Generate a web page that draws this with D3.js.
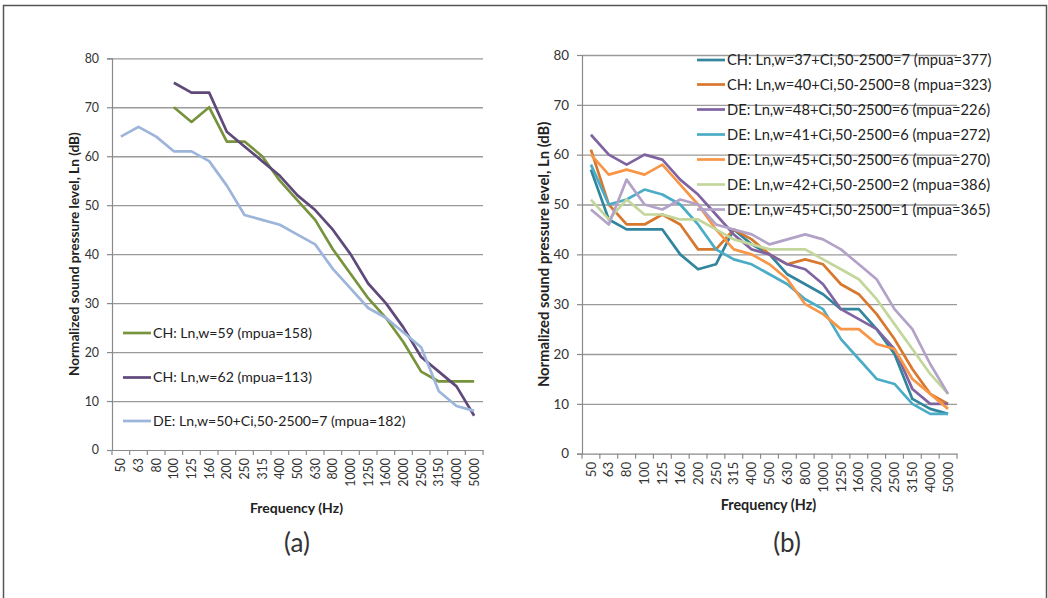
<!DOCTYPE html>
<html>
    <head>
        <script src="https://cdnjs.cloudflare.com/ajax/libs/d3/7.8.5/d3.min.js"></script>
        <title>Normalized sound pressure level</title>
        <style>
            html, body {
                margin: 0;
                background: #fff;
            }
            svg {
                display: block;
                font-family: Lato, "Open Sans", sans-serif;
            }
        </style>
    </head>
    <body>
        <svg width="1048" height="598" id="canvas"></svg>

        <script>
            var freqs = ["50","63","80","100","125","160","200","250","315","400","500",
                         "630","800","1000","1250","1600","2000","2500","3150","4000","5000"];

            var yTicks = [0, 10, 20, 30, 40, 50, 60, 70, 80];

            // (a)
            var namesA = ["CH: Ln,w=59 (mpua=158)",
                          "CH: Ln,w=62 (mpua=113)",
                          "DE: Ln,w=50+Ci,50-2500=7 (mpua=182)"];
            var colorsA = ["#77933c", "#5f497a", "#9db5db"];
            var chA59 = [null,null,null,70,67,70,63,63,60,55,51,47,41,36,31,27,22,16,14,14,14];
            var chA62 = [null,null,null,75,73,73,65,62,59,56,52,49,45,40,34,30,25,19,16,13,7];
            var deA50 = [64,66,64,61,61,59,54,48,47,46,44,42,37,33,29,27,24,21,12,9,8];

            // (b)
            var namesB = ["CH: Ln,w=37+Ci,50-2500=7 (mpua=377)",
                          "CH: Ln,w=40+Ci,50-2500=8 (mpua=323)",
                          "DE: Ln,w=48+Ci,50-2500=6 (mpua=226)",
                          "DE: Ln,w=41+Ci,50-2500=6 (mpua=272)",
                          "DE: Ln,w=45+Ci,50-2500=6 (mpua=270)",
                          "DE: Ln,w=42+Ci,50-2500=2 (mpua=386)",
                          "DE: Ln,w=45+Ci,50-2500=1 (mpua=365)"];
            var colorsB = ["#31859c", "#d8772e", "#8064a2", "#4bacc6", "#f79646", "#c3d69b", "#b3a2c7"];
            var chB37 = [57,47,45,45,45,40,37,38,45,42,40,36,34,32,29,29,25,20,11,9,8];
            var chB40 = [61,50,46,46,48,46,41,41,45,43,40,38,39,38,34,32,28,23,17,12,10];
            var deB48 = [64,60,58,60,59,55,52,48,44,41,40,38,37,34,29,27,25,21,13,10,10];
            var deB41 = [58,50,51,53,52,50,46,41,39,38,36,34,31,29,23,19,15,14,10,8,8];
            var deB45 = [60,56,57,56,58,54,50,45,41,40,38,35,30,28,25,25,22,21,15,12,9];
            var deB42 = [51,47,51,48,48,47,47,45,43,42,41,41,41,39,37,35,31,26,21,16,12];
            var deB45b = [49,46,55,50,49,51,50,46,45,44,42,43,44,43,41,38,35,29,25,18,12];

            var svg = d3.select("#canvas");

            // outer frame
            svg.append("rect")
                .attr("x", 3.5).attr("y", 5.5)
                .attr("width", 1043).attr("height", 620)
                .attr("fill", "none")
                .attr("stroke", "#555")
                .attr("stroke-width", 1.5);

            function drawChart(cfg) {
                var x = d3.scaleBand().domain(freqs).range([cfg.x0, cfg.x1]);
                var y = d3.scaleLinear().domain([0, 80]).range([cfg.yBottom, cfg.yTop]);
                var w = cfg.x1 - cfg.x0;

                var g = svg.append("g");

                // gridlines
                g.append("g")
                    .attr("transform", "translate(" + cfg.x0 + ",0)")
                    .call(d3.axisLeft(y).tickValues(yTicks.slice(1)).tickSize(-w).tickFormat(""))
                    .call(function(s) {
                        s.select(".domain").remove();
                        s.selectAll("line").attr("stroke", "#9a9a9a").attr("stroke-width", 1.3);
                    });

                // y axis
                g.append("g")
                    .attr("transform", "translate(" + cfg.x0 + ",0)")
                    .call(d3.axisLeft(y).tickValues(yTicks).tickSize(5).tickPadding(8))
                    .call(function(s) {
                        s.select(".domain").attr("stroke", "#8a8a8a").attr("stroke-width", 1.2);
                        s.selectAll("line").attr("stroke", "#8a8a8a").attr("stroke-width", 1.2);
                        s.selectAll("text")
                            .attr("fill", "#333")
                            .style("font-size", cfg.tickSize + "px")
                            .style("font-family", "Lato, sans-serif");
                    });

                // x axis: labels at band centres
                var xa = g.append("g")
                    .attr("transform", "translate(0," + cfg.yBottom + ")")
                    .call(d3.axisBottom(x).tickSize(0).tickPadding(0));
                xa.select(".domain").attr("stroke", "#8a8a8a").attr("stroke-width", 1.2);
                xa.selectAll("text")
                    .attr("y", 0).attr("x", -8).attr("dy", "0.35em")
                    .attr("transform", "rotate(-90)")
                    .attr("text-anchor", "end")
                    .attr("fill", "#333")
                    .style("font-size", cfg.tickSize + "px")
                    .style("font-family", "Lato, sans-serif");

                // x axis: ticks at band boundaries
                g.append("g").selectAll("line")
                    .data(freqs.concat(["end"]))
                    .enter().append("line")
                    .attr("x1", function(d, i) { return cfg.x0 + i * x.step(); })
                    .attr("x2", function(d, i) { return cfg.x0 + i * x.step(); })
                    .attr("y1", cfg.yBottom)
                    .attr("y2", cfg.yBottom + 5)
                    .attr("stroke", "#8a8a8a").attr("stroke-width", 1.2);

                // series
                var line = d3.line()
                    .defined(function(d) { return d != null; })
                    .x(function(d, i) { return x(freqs[i]) + x.bandwidth() / 2; })
                    .y(function(d) { return y(d); });

                g.append("g").selectAll("path")
                    .data(cfg.series)
                    .enter().append("path")
                    .attr("d", line)
                    .attr("fill", "none")
                    .attr("stroke", function(d, i) { return cfg.colors[i]; })
                    .attr("stroke-width", 2.7)
                    .attr("stroke-linejoin", "round");

                // legend
                var lg = g.append("g").selectAll("g")
                    .data(cfg.names)
                    .enter().append("g")
                    .attr("transform", function(d, i) {
                        return "translate(" + cfg.legX + "," + cfg.legY[i] + ")";
                    });
                lg.append("line")
                    .attr("x1", 0).attr("x2", 28)
                    .attr("stroke", function(d, i) { return cfg.colors[i]; })
                    .attr("stroke-width", 2.7);
                lg.append("text")
                    .attr("x", 30).attr("dy", "0.35em")
                    .attr("fill", "#222")
                    .style("font-size", cfg.legSize + "px")
                    .text(function(d) { return d; });

                // axis titles
                g.append("text")
                    .attr("transform", "translate(" + cfg.yTitleX + "," + ((cfg.yTop + cfg.yBottom) / 2) + ") rotate(-90)")
                    .attr("text-anchor", "middle")
                    .attr("dy", "0.35em")
                    .attr("font-weight", "bold")
                    .attr("fill", "#222")
                    .style("font-size", cfg.titleSize + "px")
                    .text("Normalized sound pressure level, Ln (dB)");

                g.append("text")
                    .attr("x", (cfg.x0 + cfg.x1) / 2 - 1)
                    .attr("y", cfg.xTitleY)
                    .attr("dy", "0.35em")
                    .attr("text-anchor", "middle")
                    .attr("font-weight", "bold")
                    .attr("fill", "#222")
                    .style("font-size", cfg.xTitleSize + "px")
                    .text("Frequency (Hz)");

                g.append("text")
                    .attr("x", cfg.capX)
                    .attr("y", 543)
                    .attr("dy", "0.35em")
                    .attr("text-anchor", "middle")
                    .attr("fill", "#333")
                    .style("font-size", "26px")
                    .text(cfg.caption);
            }

            drawChart({
                x0: 112, x1: 483, yTop: 58.3, yBottom: 450,
                series: [chA59, chA62, deA50], colors: colorsA, names: namesA,
                legX: 123, legY: [333, 377.5, 421],
                tickSize: 12.4, legSize: 14.1, titleSize: 13.6, xTitleSize: 14,
                yTitleX: 74, xTitleY: 508, capX: 297, caption: "(a)"
            });

            drawChart({
                x0: 582, x1: 957, yTop: 55, yBottom: 453.7,
                series: [chB37, chB40, deB48, deB41, deB45, deB42, deB45b], colors: colorsB, names: namesB,
                legX: 697, legY: [60, 84.5, 109.5, 134.5, 159.5, 184.5, 209.5],
                tickSize: 13.4, legSize: 14.7, titleSize: 14.8, xTitleSize: 14.4,
                yTitleX: 544, xTitleY: 505, capX: 787, caption: "(b)"
            });
        </script>
    </body>
</html>
